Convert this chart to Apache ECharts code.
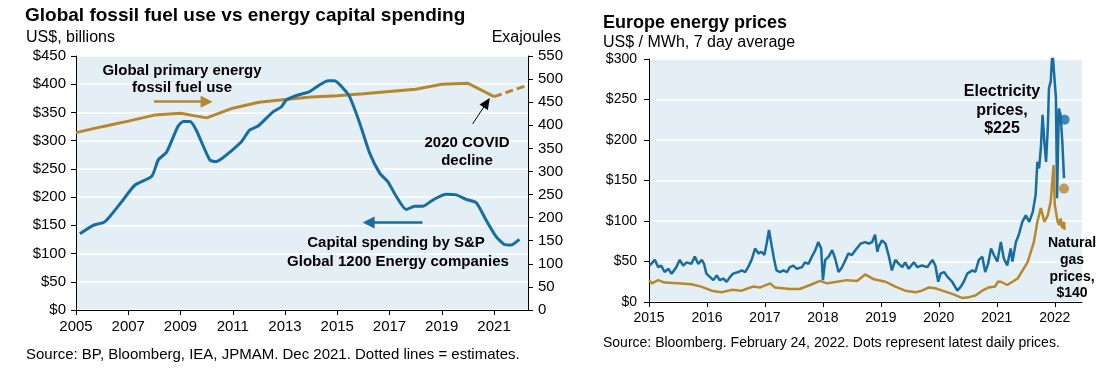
<!DOCTYPE html>
<html><head><meta charset="utf-8">
<script src="https://cdn.jsdelivr.net/npm/echarts@6/dist/echarts.min.js"></script>
<style>html,body{margin:0;padding:0;background:#fff}#c{width:1104px;height:388px}</style>
</head><body><div id="c"></div>
<script>
// ---------- Left chart data ----------
const capexYears = [2005.15,2005.66,2006.1,2006.7,2007.25,2007.9,2008.15,2008.47,2008.9,2009.1,2009.36,2009.6,2010.12,2010.38,2010.6,2010.9,2011.33,2011.65,2011.97,2012.54,2012.86,2013.05,2013.44,2013.94,2014.33,2014.65,2014.9,2015.22,2015.47,2015.86,2016.24,2016.63,2016.94,2017.26,2017.64,2017.96,2018.28,2018.66,2018.91,2019.17,2019.55,2019.93,2020.32,2020.7,2021.08,2021.4,2021.65,2021.97];
const capexValues = [135,150,156,189,221,237,266,280,325,334,334,319,266,263,269,280,298,319,326,351,360,372,380,387,399,406,406,393,378,331,278,242,227,201,178,184,184,195,201,205,204,196,190,159,130,116,115,125];
const fossilYears = [2005,2006,2007,2008,2009,2010,2011,2012,2013,2014,2015,2016,2017,2018,2019,2020,2021];
const fossilValues = [384,397,409,422,426,416,437,450,456,461,464,468,473,478,489,491,462];
const fossilEstYears = [2021,2022.3];
const fossilEstValues = [462,487];
const leftXTicks = [2005,2007,2009,2011,2013,2015,2017,2019,2021];

// ---------- Right chart data ----------
const elecYears = [2015.01,2015.1,2015.16,2015.21,2015.27,2015.33,2015.39,2015.47,2015.53,2015.59,2015.65,2015.73,2015.79,2015.85,2015.91,2015.95,2015.99,2016.05,2016.11,2016.17,2016.22,2016.28,2016.34,2016.4,2016.45,2016.54,2016.6,2016.66,2016.71,2016.77,2016.83,2016.89,2016.94,2016.99,2017.03,2017.07,2017.12,2017.16,2017.2,2017.26,2017.32,2017.38,2017.43,2017.49,2017.55,2017.64,2017.69,2017.75,2017.81,2017.87,2017.92,2017.97,2018.0,2018.04,2018.1,2018.16,2018.21,2018.27,2018.33,2018.39,2018.44,2018.5,2018.56,2018.65,2018.73,2018.79,2018.85,2018.9,2018.94,2018.96,2019.02,2019.08,2019.14,2019.19,2019.25,2019.31,2019.37,2019.42,2019.48,2019.57,2019.63,2019.71,2019.8,2019.89,2019.94,2019.99,2020.03,2020.09,2020.15,2020.23,2020.32,2020.38,2020.43,2020.49,2020.58,2020.63,2020.69,2020.75,2020.8,2020.85,2020.9,2020.95,2021.01,2021.07,2021.12,2021.18,2021.24,2021.27,2021.33,2021.38,2021.44,2021.5,2021.56,2021.62,2021.67,2021.7,2021.73,2021.76,2021.79,2021.82,2021.85,2021.88,2021.9,2021.93,2021.96,2021.99,2022.02,2022.04,2022.07,2022.1,2022.13,2022.16];
const elecValues = [45,52,43,45,37,41,35,43,52,45,49,47,56,47,52,47,35,31,27,33,27,29,25,31,35,37,39,37,43,52,66,60,62,58,72,89,68,52,39,37,39,37,43,45,41,43,49,47,56,64,74,66,27,52,56,64,54,37,43,52,60,58,64,72,74,72,74,83,62,68,76,72,56,39,52,47,43,49,41,49,43,45,43,52,45,25,35,37,31,25,14,19,25,35,39,37,52,56,37,47,66,58,50,74,54,45,66,50,74,83,99,107,99,111,132,173,165,190,231,198,173,215,264,272,310,281,252,128,239,231,198,153];
const gasYears = [2015.0,2015.05,2015.16,2015.27,2015.5,2015.73,2015.9,2016.08,2016.25,2016.43,2016.6,2016.71,2016.8,2016.92,2017.09,2017.17,2017.43,2017.6,2017.78,2017.95,2018.07,2018.24,2018.42,2018.59,2018.73,2018.88,2019.08,2019.25,2019.42,2019.6,2019.71,2019.83,2019.94,2020.06,2020.23,2020.4,2020.52,2020.63,2020.75,2020.86,2020.97,2021.02,2021.07,2021.18,2021.36,2021.53,2021.64,2021.7,2021.76,2021.82,2021.88,2021.93,2021.98,2022.0,2022.05,2022.08,2022.1,2022.13,2022.16,2022.17];
const gasValues = [27,23,27,24,23,22,19,14,12,15,14,17,19,18,23,18,16,16,21,26,23,25,27,26,34,28,25,19,14,12,14,18,17,14,10,5,6,8,14,18,19,25,25,21,29,49,74,99,116,99,107,124,169,120,99,95,103,91,99,89];
const latestElec = [2022.17, 225];
const latestGas = [2022.16, 140];
const rightXTicks = [2015,2016,2017,2018,2019,2020,2021,2022];

const BLUE = '#176CA3', GOLD = '#B8872D', BG = '#E3EFF4';
const FONT = "'Liberation Sans', Arial, sans-serif";
const zip = (a, b) => a.map((v, i) => [v, b[i]]);

const chart = echarts.init(document.getElementById('c'), null, {renderer: 'canvas'});
const axisLineStyle = {show: true, lineStyle: {color: '#000', width: 1}};
const tickStyle = {show: true, length: 5, lineStyle: {color: '#000'}};

function txt(x, y, text, size, bold, align) {
  return {type: 'text', x: x, y: y, z: 100, zlevel: 1, silent: true, style: {text: text, font: (bold ? 'bold ' : '') + size + 'px ' + FONT, fill: '#000', textAlign: align || 'left', textVerticalAlign: 'middle'}};
}

const option = {
  animation: false,
  grid: [
    {left: 76, right: 576, top: 56, bottom: 78, show: true, backgroundColor: BG, borderWidth: 0, containLabel: false},
    {left: 649, right: 22, top: 59, bottom: 86, show: true, backgroundColor: BG, borderWidth: 0, containLabel: false}
  ],
  xAxis: [
    {type: 'value', gridIndex: 0, min: 2005, max: 2022.3, interval: 2,
     axisLine: axisLineStyle, axisTick: Object.assign({customValues: leftXTicks}, tickStyle), splitLine: {show: false},
     axisLabel: {customValues: leftXTicks, formatter: v => String(v), fontSize: 15, color: '#000', fontFamily: FONT, margin: 9}},
    {type: 'value', gridIndex: 1, min: 2015, max: 2022.47, interval: 1,
     axisLine: axisLineStyle, axisTick: Object.assign({customValues: rightXTicks}, tickStyle), splitLine: {show: false},
     axisLabel: {customValues: rightXTicks, formatter: v => String(v), fontSize: 14, color: '#000', fontFamily: FONT, margin: 9}}
  ],
  yAxis: [
    {type: 'value', gridIndex: 0, min: 0, max: 450, interval: 50, position: 'left',
     axisLine: axisLineStyle, axisTick: tickStyle, splitLine: {show: true, lineStyle: {color: '#fff', width: 1.5}},
     axisLabel: {formatter: v => '$' + v, fontSize: 15, color: '#000', fontFamily: FONT, margin: 10}},
    {type: 'value', gridIndex: 0, min: 0, max: 550, interval: 50, position: 'right',
     axisLine: axisLineStyle, axisTick: tickStyle, splitLine: {show: false},
     axisLabel: {fontSize: 15, color: '#000', fontFamily: FONT, margin: 10}},
    {type: 'value', gridIndex: 1, min: 0, max: 300, interval: 50, position: 'left',
     axisLine: axisLineStyle, axisTick: tickStyle, splitLine: {show: true, lineStyle: {color: '#fff', width: 1.5}},
     axisLabel: {formatter: v => '$' + v, fontSize: 14, color: '#000', fontFamily: FONT, margin: 12}}
  ],
  series: [
    {name: 'Fossil fuel use', type: 'line', xAxisIndex: 0, yAxisIndex: 1, data: zip(fossilYears, fossilValues),
     showSymbol: false, lineStyle: {color: GOLD, width: 3}, z: 3,
     markLine: {silent: true, symbol: ['none', 'triangle'], symbolSize: [12, 12], label: {show: false}, emphasis: {disabled: true},
       data: [
         [{coord: [2007.98, 451], lineStyle: {color: GOLD, width: 2.5, type: 'solid'}}, {coord: [2010.0, 451]}],
         [{coord: [2020.18, 403], lineStyle: {color: '#000', width: 1, type: 'solid'}, symbolSize: [10, 11]}, {coord: [2020.72, 449], symbolSize: [10, 11]}]
       ]}},
    {name: 'Fossil estimate', type: 'line', xAxisIndex: 0, yAxisIndex: 1, data: zip(fossilEstYears, fossilEstValues),
     showSymbol: false, lineStyle: {color: GOLD, width: 3, type: [8, 4]}, z: 3},
    {name: 'Capex', type: 'line', xAxisIndex: 0, yAxisIndex: 0, data: zip(capexYears, capexValues),
     showSymbol: false, smooth: 0.2, lineStyle: {color: BLUE, width: 3}, z: 4,
     markLine: {silent: true, symbol: ['none', 'triangle'], symbolSize: [12, 12], label: {show: false}, emphasis: {disabled: true},
       data: [[{coord: [2018.26, 155], lineStyle: {color: BLUE, width: 2.5, type: 'solid'}}, {coord: [2016.2, 155]}]]}},
    {name: 'Electricity', type: 'line', xAxisIndex: 1, yAxisIndex: 2, data: zip(elecYears, elecValues),
     showSymbol: false, lineStyle: {color: BLUE, width: 2.5}, z: 3},
    {name: 'Natural gas', type: 'line', xAxisIndex: 1, yAxisIndex: 2, data: zip(gasYears, gasValues),
     showSymbol: false, lineStyle: {color: GOLD, width: 2.5}, z: 4},
    {name: 'Latest electricity', type: 'scatter', xAxisIndex: 1, yAxisIndex: 2, data: [latestElec],
     symbolSize: 10, itemStyle: {color: BLUE}, z: 5},
    {name: 'Latest gas', type: 'scatter', xAxisIndex: 1, yAxisIndex: 2, data: [latestGas],
     symbolSize: 10, itemStyle: {color: GOLD}, z: 5}
  ],
  graphic: [
    txt(25, 16, 'Global fossil fuel use vs energy capital spending', 19, true),
    txt(26, 38, 'US$, billions', 16, false),
    txt(561, 38, 'Exajoules', 16, false, 'right'),
    txt(26, 355, 'Source: BP, Bloomberg, IEA, JPMAM. Dec 2021. Dotted lines = estimates.', 15, false),
    txt(182, 71, 'Global primary energy', 15, true, 'center'),
    txt(182, 88, 'fossil fuel use', 15, true, 'center'),
    txt(467, 143, '2020 COVID', 15, true, 'center'),
    txt(467, 161, 'decline', 15, true, 'center'),
    txt(396, 243, 'Capital spending by S&P', 15, true, 'center'),
    txt(398, 262, 'Global 1200 Energy companies', 15, true, 'center'),
    txt(603, 23, 'Europe energy prices', 18, true),
    txt(603, 43, 'US$ / MWh, 7 day average', 16, false),
    txt(603, 343, 'Source: Bloomberg. February 24, 2022. Dots represent latest daily prices.', 14, false),
    txt(1002, 92, 'Electricity', 16, true, 'center'),
    txt(1002, 111, 'prices,', 16, true, 'center'),
    txt(1002, 129, '$225', 16, true, 'center'),
    txt(1072, 243, 'Natural', 14, true, 'center'),
    txt(1072, 260, 'gas', 14, true, 'center'),
    txt(1072, 277, 'prices,', 14, true, 'center'),
    txt(1072, 293, '$140', 14, true, 'center')
  ]
};
chart.setOption(option);
</script></body></html>
